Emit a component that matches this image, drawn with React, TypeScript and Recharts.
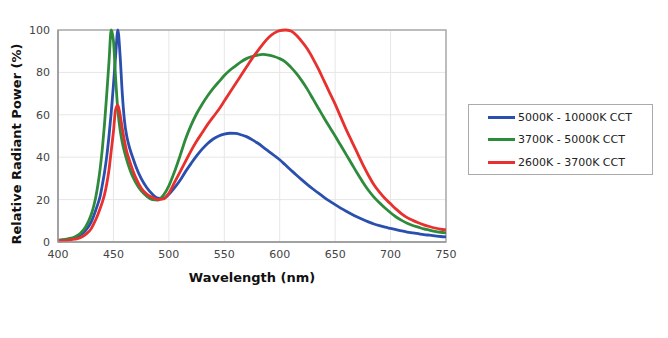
import React from 'react';
import {
	LineChart,
	Line,
	XAxis,
	YAxis,
	CartesianGrid,
	Legend,
	ReferenceArea
} from 'recharts';

// wavelength samples (nm), denser around the blue pump peak
const wavelengths = [
	400, 405, 410, 415, 420, 425, 430,
	432, 434, 436, 438, 440, 442, 444, 446, 448, 450,
	452, 454, 456, 458, 460, 462, 464, 466, 468, 470,
	475, 480, 485, 490, 495, 500, 505, 510, 515, 520,
	525, 530, 535, 540, 545, 550, 555, 560, 565, 570,
	575, 580, 585, 590, 595, 600, 605, 610, 615, 620,
	625, 630, 635, 640, 645, 650, 655, 660, 665, 670,
	675, 680, 685, 690, 695, 700, 705, 710, 715, 720,
	725, 730, 735, 740, 745, 750
];

const cool = [
	0.8, 1, 1.3, 1.9, 3.2, 5.5, 9.5,
	12, 15, 18, 21.5, 27, 33, 40.5, 50, 61, 74,
	88, 100, 88, 70, 57, 50, 45.5, 42, 39, 36,
	30, 25.7, 22.6, 20.7, 20.5, 22.5, 25.5, 29, 33.2, 37,
	40.6, 43.8, 46.5, 48.6, 50, 50.9, 51.3, 51.2, 50.6, 49.7,
	48.3, 46.7, 44.8, 42.8, 40.8, 38.8, 36.4, 34, 31.6, 29.3,
	27.1, 25, 23, 21.1, 19.3, 17.6, 16, 14.5, 13.1, 11.8,
	10.6, 9.5, 8.5, 7.7, 7, 6.4, 5.8, 5.2, 4.7, 4.3,
	3.9, 3.5, 3.2, 2.9, 2.6, 2.4
];

const neutral = [
	0.8, 1.1, 1.6, 2.4, 4, 7.2, 13,
	16.5, 21, 27, 34.5, 44, 56, 70, 85, 100, 95,
	77, 62, 53, 47, 42.5, 38.8, 35.5, 32.6, 30.2, 28.2,
	24.2, 21.6, 20, 19.8, 22, 26.5, 33, 40.5, 48.5, 55,
	60.5, 65, 69, 72.5, 75.5, 78.5, 81, 83, 85, 86.5,
	87.5, 88.2, 88.5, 88.2, 87.5, 86.5, 85, 82.5, 79.5, 76,
	72, 67.5, 63, 58.5, 54.2, 50, 45.6, 41.2, 36.8, 32.4,
	28.2, 24.4, 21.2, 18.5, 16, 13.8, 11.8, 10.2, 8.8, 7.8,
	7, 6.2, 5.6, 5, 4.6, 4.3
];

const warm = [
	0.5, 0.6, 0.9, 1.3, 2, 3.6, 6.3,
	8.3, 10.5, 13, 15.8, 18.8, 22.5, 27.5, 34, 43, 52,
	62.5, 64.5, 60, 53.5, 47.5, 42.7, 39.2, 36, 33, 30.5,
	25.5, 22.6, 21, 20, 20.3, 23, 28, 33, 38, 43,
	47.5, 51.5, 55.5, 59, 62.5, 66.5, 70.5, 74.5, 78.5, 82.5,
	86.5, 90, 93.5, 96.5, 98.5, 99.7, 100, 99.5, 97.5, 94.5,
	91, 86.5, 81.5, 76, 70.5, 65, 59, 53, 47.5, 42,
	36.5, 31.5, 27, 23.5, 20.5, 18, 15.5, 13.3, 11.5, 10.2,
	9.1, 8.1, 7.3, 6.6, 6.1, 5.7
];

const xTicks = [400, 450, 500, 550, 600, 650, 700, 750];
const yTicks = [0, 20, 40, 60, 80, 100];

const seriesInfo = [
	{ key: 'cool', name: '5000K - 10000K CCT', color: '#2a4fae' },
	{ key: 'neutral', name: '3700K - 5000K CCT', color: '#2e8b3b' },
	{ key: 'warm', name: '2600K - 3700K CCT', color: '#e8302e' }
];

const data = wavelengths.map((wl, i) => ({
	wl,
	cool: cool[i],
	neutral: neutral[i],
	warm: warm[i]
}));

const FONT = '"DejaVu Sans", Verdana, sans-serif';

const LegendBox = () => (
	<div
		style={{
			border: '1px solid #aaaaaa',
			width: 183,
			height: 68,
			boxSizing: 'content-box',
			fontFamily: FONT,
			fontSize: 11,
			color: '#222',
			paddingTop: 1
		}}
	>
		{seriesInfo.map((s) => (
			<div key={s.key} style={{ display: 'flex', alignItems: 'center', height: 22.5 }}>
				<span
					style={{
						display: 'inline-block',
						width: 27,
						height: 3,
						background: s.color,
						marginLeft: 19,
						marginRight: 3
					}}
				/>
				<span>{s.name}</span>
			</div>
		))}
	</div>
);

const YTitle = (props: any) => {
	const { viewBox } = props;
	const cx = viewBox.x + 8;
	const cy = viewBox.y + viewBox.height / 2 + 8;
	return (
		<text
			x={cx}
			y={cy}
			transform={`rotate(-90 ${cx} ${cy})`}
			textAnchor="middle"
			dominantBaseline="central"
			fontFamily={FONT}
			fontWeight="bold"
			fontSize={13}
			fill="#111"
		>
			Relative Radiant Power (%)
		</text>
	);
};

const App: React.FC = () => {
	return (
		<div style={{ position: 'relative' }}>
			<LineChart
				width={660}
				height={320}
				data={data}
				margin={{ top: 22, right: 222, bottom: 36, left: 0 }}
			>
				<CartesianGrid stroke="#e6e6e6" strokeWidth={1} />
				<XAxis
					dataKey="wl"
					type="number"
					domain={[400, 750]}
					ticks={xTicks}
					tickLine={false}
					stroke="#999"
					strokeWidth={1.5}
					tick={{ fill: '#444', fontSize: 11, fontFamily: FONT }}
					height={50}
					label={{
						value: 'Wavelength (nm)',
						position: 'insideBottom',
						offset: 10,
						fill: '#111',
						fontSize: 13,
						fontWeight: 'bold',
						fontFamily: FONT
					}}
				/>
				<YAxis
					type="number"
					domain={[0, 100]}
					ticks={yTicks}
					tickLine={false}
					stroke="#999"
					strokeWidth={1.5}
					width={50}
					tick={{ fill: '#444', fontSize: 11, fontFamily: FONT }}
					label={{ content: YTitle }}
				/>
				<ReferenceArea
					x1={400}
					x2={750}
					y1={0}
					y2={100}
					fill="none"
					stroke="#aaaaaa"
					strokeWidth={1.5}
					ifOverflow="visible"
				/>
				<Legend
					layout="horizontal"
					align="center"
					verticalAlign="middle"
					content={() => <LegendBox />}
					wrapperStyle={{ left: 460, top: 96, width: 185, height: 70 }}
				/>
				{seriesInfo.map((s) => (
					<Line
						key={s.key}
						type="monotone"
						dataKey={s.key}
						name={s.name}
						stroke={s.color}
						strokeWidth={2.8}
						dot={false}
						isAnimationActive={false}
					/>
				))}
			</LineChart>
		</div>
	);
};

export default App;
